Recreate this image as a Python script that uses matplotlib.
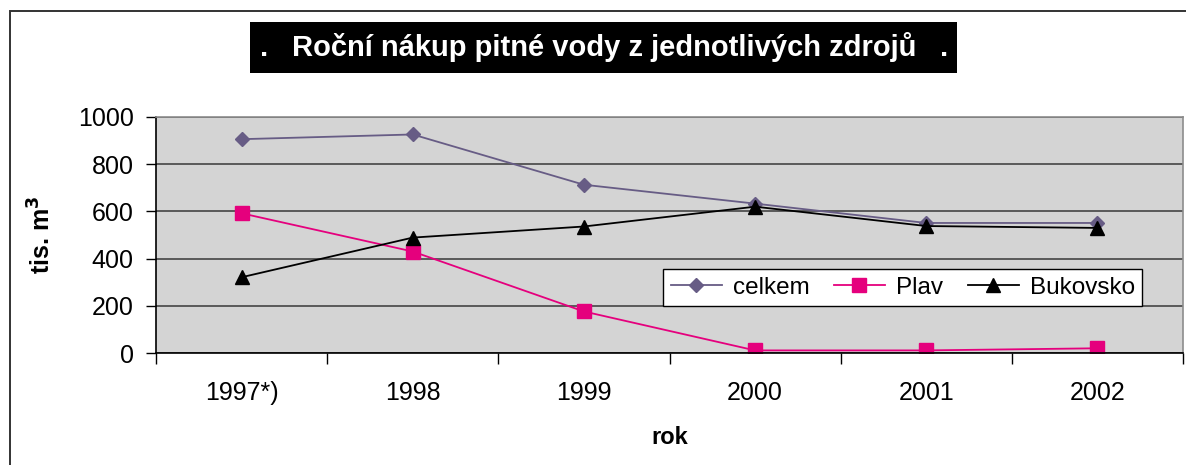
import numpy as np
import matplotlib.pyplot as plt
from matplotlib.patches import Rectangle

plt.rcParams['font.family'] = ['Liberation Sans', 'DejaVu Sans']

# data
roky = ['1997*)', '1998', '1999', '2000', '2001', '2002']
celkem = [906, 926, 713, 633, 551, 551]
plav = [592, 430, 176, 11, 11, 20]
bukovsko = [321, 489, 536, 620, 538, 530]

W, H = 1186, 465
fig = plt.figure(figsize=(W / 100, H / 100), dpi=100)

# outer frame of the chart object
fig.patches.append(Rectangle((10 / W, -0.1), 1.2, 1 - 11 / H + 0.1, transform=fig.transFigure,
                             fill=False, edgecolor='#333333', linewidth=1.4))

ax = fig.add_axes([156 / W, 1 - 353 / H, (1183 - 156) / W, (353 - 117) / H])
ax.set_facecolor('#d4d4d4')

x = np.arange(len(roky))
ax.plot(x, celkem, color='#675c85', marker='D', markersize=7, linewidth=1.3, label='celkem')
ax.plot(x, plav, color='#e5007d', marker='s', markersize=10, linewidth=1.3, label='Plav')
ax.plot(x, bukovsko, color='black', marker='^', markersize=10, linewidth=1.3, label='Bukovsko')

ax.set_xlim(-0.5, len(roky) - 0.5)
ax.set_ylim(0, 1000)
ax.set_yticks(np.arange(0, 1001, 200))
ax.yaxis.grid(True, color='#505050', linewidth=1.3)
ax.set_axisbelow(True)

ax.set_xticks(np.arange(-0.5, len(roky), 1))
ax.set_xticklabels([])
ax.set_xticks(x, minor=True)
ax.set_xticklabels(roky, minor=True, fontsize=18)
ax.tick_params(axis='x', which='minor', length=0, pad=20)
ax.tick_params(axis='x', which='major', length=8, width=1, color='black', direction='out')
ax.tick_params(axis='y', length=7, width=1, labelsize=18, pad=9)

for s in ['top', 'right']:
    ax.spines[s].set_color('#8c8c8c')
    ax.spines[s].set_linewidth(1.2)
for s in ['left', 'bottom']:
    ax.spines[s].set_color('black')
    ax.spines[s].set_linewidth(1.2)

ax.set_xlabel('rok', fontsize=17, fontweight='bold', labelpad=15)
ax.set_ylabel('tis. m$^\\mathbf{3}$', fontsize=18, fontweight='bold', labelpad=16)

leg = ax.legend(loc='lower left', bbox_to_anchor=(0.494, 0.199, 0.466, 0.174), mode='expand',
                ncol=3, fontsize=17.5, frameon=True, fancybox=False, framealpha=1,
                edgecolor='black', handlelength=2.1, handletextpad=0.45, columnspacing=1.0,
                borderaxespad=0, borderpad=0.3)
leg.get_frame().set_linewidth(1.0)

# title box
fig.patches.append(Rectangle((250 / W, 1 - 73 / H), (957 - 250) / W, (73 - 22) / H,
                             transform=fig.transFigure, facecolor='black', edgecolor='none'))
ty = 1 - 47.5 / H
fig.text(264 / W, ty, '.', color='white', fontsize=21, fontweight='bold', ha='center', va='center')
fig.text(604 / W, ty, 'Roční nákup pitné vody z jednotlivých zdrojů', color='white',
         fontsize=21, fontweight='bold', ha='center', va='center')
fig.text(944 / W, ty, '.', color='white', fontsize=21, fontweight='bold', ha='center', va='center')

fig.savefig('out.png', dpi=100)
